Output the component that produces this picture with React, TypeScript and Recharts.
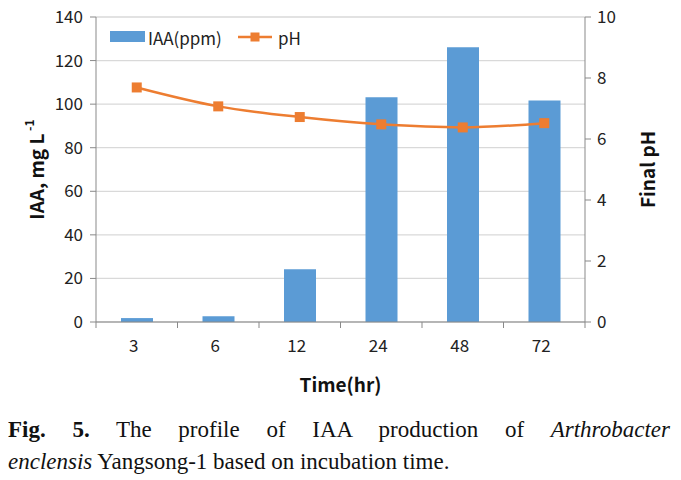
import { Bar, CartesianGrid, ComposedChart, Line, XAxis, YAxis, Label } from 'recharts';

const times = ['3', '6', '12', '24', '48', '72'];
const iaa = [1.8, 2.6, 24.2, 103.2, 126.1, 101.7];
const ph = [7.69, 7.07, 6.72, 6.48, 6.38, 6.52];
const iaaTicks = [0, 20, 40, 60, 80, 100, 120, 140];
const phTicks = [0, 2, 4, 6, 8, 10];

const data = times.map((t, i) => ({ time: t, iaa: iaa[i], ph: ph[i] }));

const BLUE = '#5B9BD5';
const ORANGE = '#ED7D31';
const AXIS = '#898989';
const GRID = '#d9d9d9';
const TICK_FONT = '"Noto Sans CJK KR", "Noto Sans", sans-serif';
const SERIF = '"Liberation Serif", "Times New Roman", serif';

const W = 665;
const TOP = 17;
const H = 400;
const LEFT_W = 88;
const RIGHT_W = 88;
const BAND = (W - LEFT_W - RIGHT_W) / times.length;

function TimeTick(props: any) {
  const { x, y, payload, index } = props;
  const half = BAND / 2;
  return (
    <g>
      <line x1={x - half} x2={x - half} y1={y} y2={y + 6} stroke={AXIS} />
      {index === times.length - 1 ? (
        <line x1={x + half} x2={x + half} y1={y} y2={y + 6} stroke={AXIS} />
      ) : null}
      <text x={x - 3} y={y + 30} textAnchor="middle" fontSize={17} fill="#222" fontFamily={TICK_FONT}>
        {payload.value}
      </text>
    </g>
  );
}

function IaaLabel(props: any) {
  const { viewBox } = props;
  const cx = viewBox.x + 27;
  const cy = viewBox.y + viewBox.height / 2;
  return (
    <text
      x={cx}
      y={cy}
      transform={`rotate(-90 ${cx} ${cy})`}
      textAnchor="middle"
      dominantBaseline="central"
      fontSize={19}
      fontWeight="bold"
      fill="#111"
      fontFamily={TICK_FONT}
    >
      IAA, mg L
      <tspan dy={-7} fontSize={12}>
        {' -1'}
      </tspan>
    </text>
  );
}

function Legendish() {
  return (
    <div style={{ position: 'absolute', left: 102, top: 25, height: 24, width: 220 }}>
      <svg width={220} height={24}>
        <rect x={0} y={6} width={35} height={11} fill={BLUE} />
        <text x={38} y={12} dominantBaseline="central" fontSize={17} fill="#222" fontFamily={TICK_FONT}>
          IAA(ppm)
        </text>
        <line x1={128} x2={162} y1={12} y2={12} stroke={ORANGE} strokeWidth={2.5} />
        <rect x={140.5} y={7.5} width={9} height={9} fill={ORANGE} />
        <text x={168} y={12} dominantBaseline="central" fontSize={17} fill="#222" fontFamily={TICK_FONT}>
          pH
        </text>
      </svg>
    </div>
  );
}

export default function App() {
  return (
    <div style={{ width: 673, marginTop: -8 }}>
      <div style={{ position: 'relative', width: W, height: H }}>
        <ComposedChart width={W} height={H} data={data} margin={{ top: TOP, right: 0, bottom: 0, left: 0 }}>
          <CartesianGrid yAxisId="left" vertical={false} stroke={GRID} strokeWidth={1.3} />
          <XAxis
            dataKey="time"
            height={H - TOP - 305}
            axisLine={{ stroke: AXIS }}
            tickLine={false}
            tickSize={0}
            tickMargin={0}
            tick={<TimeTick />}
            interval={0}
          >
            <Label
              value="Time(hr)"
              position="insideBottom"
              offset={8}
              style={{ fontSize: 19, fontWeight: 'bold', fill: '#111', fontFamily: TICK_FONT }}
            />
          </XAxis>
          <YAxis
            yAxisId="left"
            width={LEFT_W}
            domain={[0, 140]}
            ticks={iaaTicks}
            axisLine={{ stroke: AXIS }}
            tickLine={{ stroke: AXIS }}
            tickSize={6}
            tickMargin={7}
            tick={{ fontSize: 17, fill: '#222', fontFamily: TICK_FONT }}
          >
            <Label content={<IaaLabel />} />
          </YAxis>
          <YAxis
            yAxisId="right"
            orientation="right"
            width={RIGHT_W}
            domain={[0, 10]}
            ticks={phTicks}
            axisLine={{ stroke: AXIS }}
            tickLine={{ stroke: AXIS }}
            tickSize={6}
            tickMargin={6}
            tick={{ fontSize: 17, fill: '#222', fontFamily: TICK_FONT }}
          >
            <Label
              value="Final pH"
              angle={-90}
              position="center"
              dx={19}
              style={{ fontSize: 19, fontWeight: 'bold', fill: '#111', fontFamily: TICK_FONT, textAnchor: 'middle' }}
            />
          </YAxis>
          <Bar yAxisId="left" dataKey="iaa" fill={BLUE} barSize={32} isAnimationActive={false} />
          <Line
            yAxisId="right"
            dataKey="ph"
            type="monotone"
            stroke={ORANGE}
            strokeWidth={2.5}
            dot={(p: any) => (
              <rect key={p.index} x={p.cx - 5} y={p.cy - 5} width={10} height={10} fill={ORANGE} />
            )}
            activeDot={false}
            isAnimationActive={false}
          />
        </ComposedChart>
        <Legendish />
      </div>
      <div
        style={{
          fontFamily: SERIF,
          fontSize: 23,
          lineHeight: '32px',
          width: 662,
          marginTop: 14,
          color: '#111',
        }}
      >
        <div style={{ textAlign: 'justify', textAlignLast: 'justify', whiteSpace: 'nowrap' as const }}>
          <b>Fig. 5.</b> The profile of IAA production of <i>Arthrobacter</i>
        </div>
        <div>
          <i>enclensis</i> Yangsong-1 based on incubation time.
        </div>
      </div>
    </div>
  );
}
